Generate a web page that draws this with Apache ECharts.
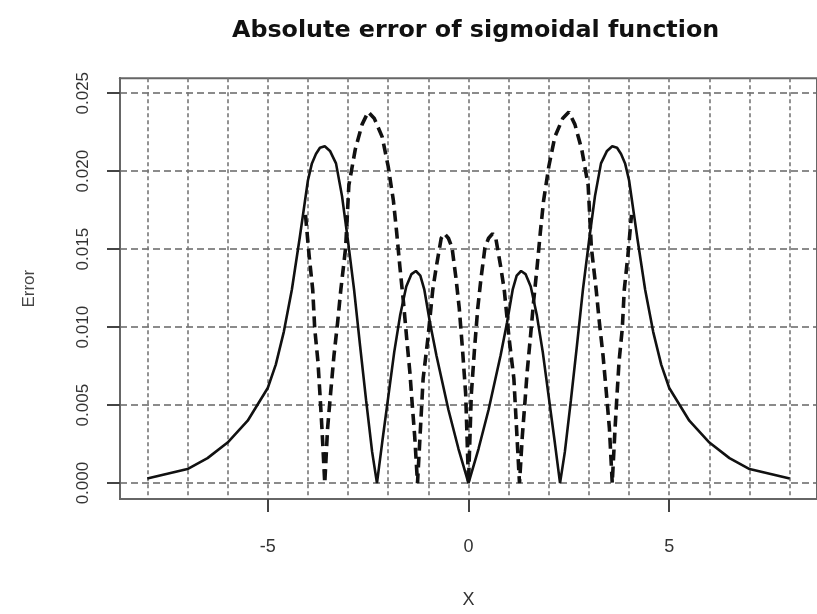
<!DOCTYPE html>
<html>
<head>
<meta charset="utf-8">
<script src="https://cdn.jsdelivr.net/npm/echarts@6/dist/echarts.min.js"></script>
<style>
  html, body { margin: 0; padding: 0; background: #fff; }
  #chart { width: 817px; height: 614px; }
</style>
</head>
<body>
<div id="chart"></div>
<script>
// solid curve
const solidX = [-8.0, -7.5, -7.0, -6.5, -6.0, -5.5, -5.0, -4.8, -4.6, -4.4, -4.2, -4.0, -3.9, -3.8, -3.7, -3.58,
  -3.45, -3.3, -3.15, -3.0, -2.85, -2.7, -2.55, -2.4, -2.28, -2.15, -2.0, -1.85, -1.7, -1.55, -1.42, -1.31,
  -1.2, -1.1, -0.96, -0.8, -0.5, -0.25, 0,
  0.25, 0.5, 0.8, 0.96, 1.1, 1.2, 1.31, 1.42, 1.55, 1.7, 1.85, 2.0, 2.15, 2.28, 2.4, 2.55, 2.7, 2.85, 3.0,
  3.15, 3.3, 3.45, 3.58, 3.7, 3.8, 3.9, 4.0, 4.2, 4.4, 4.6, 4.8, 5.0, 5.5, 6.0, 6.5, 7.0, 7.5, 8.0]
const solidY = [0.0003, 0.0006, 0.0009, 0.0016, 0.0026, 0.0040, 0.0061, 0.0076, 0.0097, 0.0124, 0.0158, 0.0194, 0.0205, 0.0211, 0.0215, 0.0216,
  0.0213, 0.0205, 0.0184, 0.0155, 0.0124, 0.0088, 0.0053, 0.0020, 0.0, 0.0026, 0.0055, 0.0084, 0.0108, 0.0126, 0.0134, 0.0136,
  0.0133, 0.0124, 0.0103, 0.0082, 0.0047, 0.0022, 0.0,
  0.0022, 0.0047, 0.0082, 0.0103, 0.0124, 0.0133, 0.0136, 0.0134, 0.0126, 0.0108, 0.0084, 0.0055, 0.0026, 0.0, 0.0020, 0.0053, 0.0088, 0.0124, 0.0155,
  0.0184, 0.0205, 0.0213, 0.0216, 0.0215, 0.0211, 0.0205, 0.0194, 0.0158, 0.0124, 0.0097, 0.0076, 0.0061, 0.0040, 0.0026, 0.0016, 0.0009, 0.0006, 0.0003]

// dashed curve
const dashX = [-4.06, -3.97, -3.88, -3.83, -3.75, -3.70, -3.65, -3.58, -3.51, -3.43, -3.35, -3.26, -3.18, -3.06, -2.98, -2.82,
  -2.65, -2.50, -2.35, -2.15, -2.00, -1.87, -1.79, -1.71, -1.62, -1.54, -1.46, -1.40, -1.34, -1.27, -1.13, -1.01,
  -0.89, -0.80, -0.68, -0.60, -0.50, -0.41, -0.31, -0.23, -0.15, -0.07, 0,
  0.07, 0.15, 0.23, 0.31, 0.41, 0.50, 0.60, 0.68, 0.80, 0.89, 1.01, 1.13, 1.27, 1.34, 1.40, 1.46, 1.54, 1.62,
  1.71, 1.79, 1.87, 2.00, 2.15, 2.35, 2.50, 2.65, 2.82, 2.98, 3.06, 3.18, 3.26, 3.35, 3.43, 3.51, 3.58,
  3.65, 3.70, 3.75, 3.83, 3.88, 3.97, 4.06]
const dashY = [0.0172, 0.0146, 0.0124, 0.0099, 0.0078, 0.0057, 0.0035, 0.0, 0.0035, 0.0059, 0.0082, 0.0103, 0.0124, 0.0151, 0.0191, 0.0214,
  0.0230, 0.0238, 0.0234, 0.0222, 0.0203, 0.0181, 0.0161, 0.0139, 0.0116, 0.0093, 0.0071, 0.0050, 0.0030, 0.0, 0.0067, 0.0093,
  0.0124, 0.0139, 0.0157, 0.0160, 0.0157, 0.0151, 0.0131, 0.0112, 0.0086, 0.0057, 0.0,
  0.0057, 0.0086, 0.0112, 0.0131, 0.0151, 0.0157, 0.0160, 0.0157, 0.0139, 0.0124, 0.0093, 0.0067, 0.0, 0.0030, 0.0050, 0.0071, 0.0093, 0.0116,
  0.0139, 0.0161, 0.0181, 0.0203, 0.0222, 0.0234, 0.0238, 0.0230, 0.0214, 0.0191, 0.0151, 0.0124, 0.0103, 0.0082, 0.0059, 0.0035, 0.0,
  0.0035, 0.0057, 0.0078, 0.0099, 0.0124, 0.0146, 0.0172]

const xTicks = [-5, 0, 5]
const yTicks = [0, 0.005, 0.010, 0.015, 0.020, 0.025]
const gridX = [-8, -7, -6, -5, -4, -3, -2, -1, 0, 1, 2, 3, 4, 5, 6, 7, 8]

const X_MIN = -8.68
const X_MAX = 8.68
const Y_MIN = -0.00102
const Y_MAX = 0.025956

const chart = echarts.init(document.getElementById('chart'))

const labelFont = { fontFamily: 'Liberation Sans', color: '#333' }
const tickStyle = { color: '#444', width: 2 }

chart.setOption({
  animation: false,
  title: {
    text: 'Absolute error of sigmoidal function',
    left: 227,
    top: 14,
    textStyle: { fontFamily: 'DejaVu Sans', fontWeight: 'bold', fontSize: 23.8, color: '#111' },
  },
  grid: {
    left: 120,
    right: -8.6,
    top: 78.3,
    bottom: 112.3,
    show: true,
    borderColor: '#666',
    borderWidth: 2,
  },
  xAxis: [
    {
      // vertical grid lines at every integer
      type: 'value',
      min: X_MIN,
      max: X_MAX,
      axisLine: { show: false, onZero: false },
      axisTick: { show: false, customValues: gridX },
      axisLabel: { show: false, customValues: gridX },
      splitLine: { show: true, lineStyle: { color: '#777', width: 1.6, type: [4, 3] } },
    },
    {
      // labels and axis title
      type: 'value',
      position: 'bottom',
      min: X_MIN,
      max: X_MAX,
      name: 'X',
      nameLocation: 'middle',
      nameGap: 92,
      nameTextStyle: { ...labelFont, fontSize: 18 },
      axisLine: { show: true, onZero: false, lineStyle: { color: '#666', width: 2 } },
      splitLine: { show: false },
      axisTick: { show: true, inside: false, customValues: xTicks, length: 13, lineStyle: tickStyle },
      axisLabel: { ...labelFont, customValues: xTicks, margin: 39, fontSize: 18 },
    },
    {
      // plain tick marks below the box
      type: 'value',
      position: 'bottom',
      min: X_MIN,
      max: X_MAX,
      axisLine: { show: true, onZero: false, lineStyle: { color: '#666', width: 2 } },
      splitLine: { show: false },
      axisTick: { show: true, inside: false, customValues: xTicks, length: 13, lineStyle: { color: '#444', width: 2 } },
      axisLabel: { show: false, customValues: xTicks },
    },
  ],
  yAxis: [
    {
      type: 'value',
      position: 'left',
      min: Y_MIN,
      max: Y_MAX,
      name: 'Error',
      nameLocation: 'middle',
      nameGap: 82,
      nameRotate: 90,
      nameTextStyle: { ...labelFont, fontSize: 17, color: '#444' },
      axisLine: { show: true, onZero: false, lineStyle: { color: '#666', width: 2 } },
      splitLine: { show: true, lineStyle: { color: '#666', width: 1.6, type: [7, 4] } },
      axisTick: { show: true, inside: false, customValues: yTicks, length: 13, lineStyle: tickStyle },
      axisLabel: {
        ...labelFont,
        customValues: yTicks,
        rotate: 90,
        margin: 28,
        fontSize: 17,
        formatter: (v) => v.toFixed(3),
      },
    },
    {
      // plain tick marks left of the box
      type: 'value',
      position: 'left',
      min: Y_MIN,
      max: Y_MAX,
      axisLine: { show: true, onZero: false, lineStyle: { color: '#666', width: 2 } },
      splitLine: { show: false },
      axisTick: { show: true, inside: false, customValues: yTicks, length: 13, lineStyle: { color: '#444', width: 2 } },
      axisLabel: { show: false, customValues: yTicks },
    },
  ],
  series: [
    {
      name: 'solid',
      type: 'line',
      xAxisIndex: 0,
      yAxisIndex: 0,
      symbol: 'none',
      lineStyle: { color: '#111', width: 2.6 },
      data: solidX.map((x, i) => [x, solidY[i]]),
    },
    {
      name: 'dashed',
      type: 'line',
      xAxisIndex: 0,
      yAxisIndex: 0,
      symbol: 'none',
      lineStyle: { color: '#111', width: 3.6, type: [11, 6] },
      data: dashX.map((x, i) => [x, dashY[i]]),
    },
  ],
})

window.addEventListener('resize', () => chart.resize())
</script>
</body>
</html>
